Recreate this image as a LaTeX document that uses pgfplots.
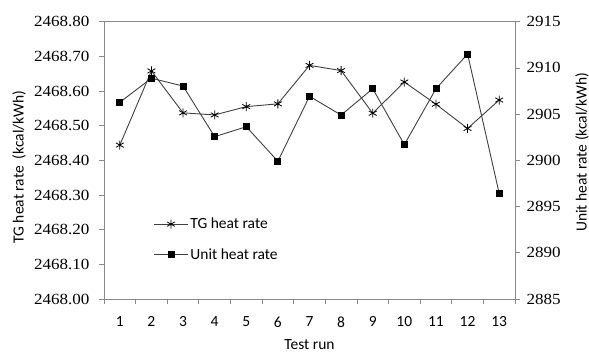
\documentclass[border=0pt]{standalone}
\usepackage{pgfplots}
\pgfplotsset{compat=1.18}
\usepackage{fontspec}
\setmainfont{Carlito}
\newfontfamily\tnr{Liberation Serif}
\definecolor{axgray}{HTML}{898989}
\definecolor{lngray}{HTML}{404040}
\pgfplotsset{
  common/.style={
    width=411pt, height=277.3pt, scale only axis,
    at={(0pt,0pt)}, anchor=origin,
    xmin=0.5, xmax=13.5,
    axis line style={axgray, line width=0.8pt},
    tick align=outside,
    major tick length=5pt, minor tick length=5pt,
    every tick/.style={axgray, line width=0.8pt},
    /pgf/number format/assume math mode=true,
    /pgf/number format/1000 sep={},
  }
}
\begin{document}
\begin{tikzpicture}
\useasboundingbox (-104pt,-55pt) rectangle (485pt,299pt);
\begin{axis}[common,
  ymin=2468, ymax=2468.8,
  ytick={2468,2468.1,2468.2,2468.3,2468.4,2468.5,2468.6,2468.7,2468.8},
  ytick pos=left, xtick pos=bottom,
  yticklabel={\tnr\fontsize{15.5}{16}\selectfont\scalebox{1.1}[1]{\pgfmathprintnumber[fixed,fixed zerofill,precision=2,1000 sep={}]{\tick}}},
  yticklabel style={xshift=-6pt},
  xtick={1,...,13},
  xticklabel style={font=\fontsize{15.5}{16}\selectfont, yshift=-9pt},
  minor xtick={0.5,1.5,...,13.5},
  major x tick style={draw=none},
  ylabel={TG heat rate\ \ (kcal/kWh)},
  ylabel style={at={(axis description cs:-0.207,0.476)}, anchor=center, font=\fontsize{15.5}{16}\selectfont},
  xlabel={Test run},
  xlabel style={at={(axis description cs:0.5,-0.166)}, anchor=center, font=\fontsize{15.5}{16}\selectfont},
]
\addplot[lngray, line width=0.9pt, mark=asterisk, mark size=4.5pt,
  mark options={black, line width=0.8pt}] coordinates {
(1,2468.444) (2,2468.658) (3,2468.537) (4,2468.531) (5,2468.555)
(6,2468.563) (7,2468.674) (8,2468.659) (9,2468.536) (10,2468.626)
(11,2468.562) (12,2468.492) (13,2468.574)};
\end{axis}
\begin{axis}[common,
  ymin=2885, ymax=2915,
  ytick={2885,2890,...,2915},
  axis y line*=right, axis x line=none,
  yticklabel={\tnr\fontsize{15.5}{16}\selectfont\scalebox{1.1}[1]{\pgfmathprintnumber[fixed,precision=0,1000 sep={}]{\tick}}},
  yticklabel style={xshift=3pt},
  ylabel={Unit heat rate (kcal/kWh)},
  ylabel style={at={(axis description cs:1.163,0.53)}, anchor=center, font=\fontsize{15.5}{16}\selectfont},
  legend image code/.code={\draw[mark repeat=2, mark phase=2, #1] plot coordinates {(0pt,0pt) (17pt,0pt) (34pt,0pt)};},
  legend style={draw=none, fill=none, at={(0.12,0.30)}, anchor=north west,
    row sep=14pt, font=\fontsize{15.5}{16}\selectfont, inner sep=0pt},
  legend cell align=left,
]
\addlegendimage{lngray, line width=0.9pt, mark=asterisk, mark size=4.5pt,
  mark options={black, line width=0.8pt}}
\addlegendentry{TG heat rate}
\addplot[lngray, line width=0.9pt, mark=square*, mark size=3pt,
  mark options={black, fill=black}] coordinates {
(1,2906.28) (2,2908.88) (3,2908.04) (4,2902.56) (5,2903.64)
(6,2899.90) (7,2906.93) (8,2904.90) (9,2907.75) (10,2901.70)
(11,2907.75) (12,2911.50) (13,2896.43)};
\addlegendentry{Unit heat rate}
\end{axis}
\end{tikzpicture}
\end{document}
